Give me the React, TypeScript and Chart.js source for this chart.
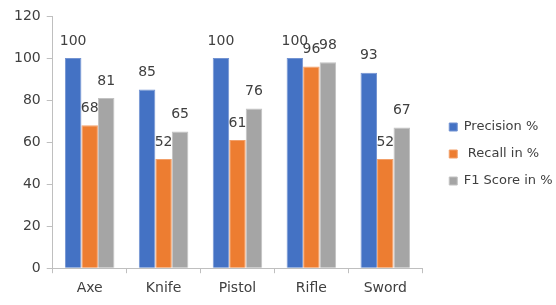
import React, { useEffect, useRef } from "react";
import { Chart, registerables } from "chart.js";

Chart.register(...registerables);

const categories = ["Axe", "Knife", "Pistol", "Rifle", "Sword"];
const precision = [100, 85, 100, 100, 93];
const recall = [68, 52, 61, 96, 52];
const f1 = [81, 65, 76, 98, 67];
const seriesNames = ["Precision %", " Recall in %", "F1 Score in %"];
const yTicks = [0, 20, 40, 60, 80, 100, 120];

const FONT = "'DejaVu Sans', sans-serif";
const TEXT = "#404040";
const AXIS = "#BFBFBF";
const LEGEND_FIT_EXTRA = 3.5;
const LEGEND_SHIFT = 13;
const LEGEND_RAISE = 6;

const labelPlugin = {
  id: "barLabels",
  afterDatasetsDraw(chart: any) {
    const ctx = chart.ctx;
    ctx.save();
    ctx.font = `14px ${FONT}`;
    ctx.fillStyle = TEXT;
    ctx.textAlign = "center";
    ctx.textBaseline = "middle";
    chart.data.datasets.forEach((ds: any, i: number) => {
      const meta = chart.getDatasetMeta(i);
      meta.data.forEach((bar: any, j: number) => {
        ctx.fillText(String(ds.data[j]), bar.x, bar.y - 17);
      });
    });
    ctx.restore();
  },
};

// leave a gap between plot area and legend
const legendGapPlugin = {
  id: "legendGap",
  afterInit(chart: any) {
    const lg = chart.legend;
    if (!lg) return;
    const orig = lg.fit;
    lg.fit = function () {
      orig.call(this);
      this.width += LEGEND_FIT_EXTRA;
    };
  },
  afterLayout(chart: any) {
    const lg = chart.legend;
    if (!lg) return;
    lg.left += LEGEND_SHIFT;
    lg.top -= LEGEND_RAISE;
    lg.bottom -= LEGEND_RAISE;
  },
};

export default function App() {
  const ref = useRef<HTMLCanvasElement>(null);
  useEffect(() => {
    const chart = new Chart(ref.current!, {
      type: "bar",
      data: {
        labels: categories,
        datasets: [
          { label: seriesNames[0], data: precision, backgroundColor: "#4472C4", borderColor: "#7393D2", borderWidth: 1 },
          { label: seriesNames[1], data: recall, backgroundColor: "#ED7D31", borderColor: "#F2A06A", borderWidth: 1 },
          { label: seriesNames[2], data: f1, backgroundColor: "#A5A5A5", borderColor: "#C2C2C2", borderWidth: 1 },
        ],
      },
      options: {
        animation: false,
        responsive: false,
        maintainAspectRatio: false,
        layout: { padding: { top: 16, left: 8, right: 3, bottom: 1 } },
        datasets: { bar: { categoryPercentage: 0.67, barPercentage: 1 } },
        plugins: {
          tooltip: { enabled: false },
          legend: {
            position: "right",
            labels: {
              boxWidth: 8,
              boxHeight: 8,
              padding: 14,
              color: TEXT,
              font: { family: FONT, size: 13 },
            },
          },
        },
        scales: {
          x: {
            offset: true,
            grid: { display: true, offset: true, drawOnChartArea: false, tickLength: 5, color: AXIS },
            border: { color: AXIS },
            ticks: { color: TEXT, font: { family: FONT, size: 14 }, padding: 7 },
          },
          y: {
            min: 0,
            max: 120,
            afterBuildTicks: (axis: any) => {
              axis.ticks = yTicks.map((v) => ({ value: v }));
            },
            grid: { display: true, drawOnChartArea: false, tickLength: 6, color: AXIS },
            border: { color: AXIS },
            ticks: { color: TEXT, font: { family: FONT, size: 14 }, padding: 6 },
          },
        },
      },
      plugins: [labelPlugin, legendGapPlugin],
    });
    return () => chart.destroy();
  }, []);
  return (
    <div style={{ position: "fixed", left: 0, top: 0, width: 556, height: 305, background: "#fff" }}>
      <canvas ref={ref} width={556} height={305} style={{ width: 556, height: 305 }} />
    </div>
  );
}
